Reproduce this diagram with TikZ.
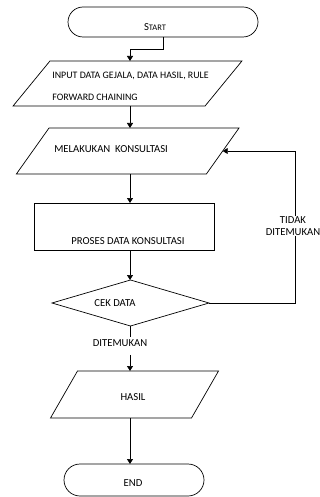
\documentclass[tikz,border=0pt]{standalone}
\usepackage{fontspec}
\setmainfont{Carlito}
\usetikzlibrary{arrows.meta,shapes.geometric}

\tikzset{
  terminal/.style={draw, rectangle, rounded corners=15pt, inner sep=0pt, outer sep=0pt},
  iobox/.style={draw, rectangle, inner sep=0pt, outer sep=0pt, transform shape},
  procbox/.style={draw, rectangle, inner sep=0pt, outer sep=0pt},
  decbox/.style={draw, diamond, inner sep=0pt, outer sep=0pt},
  txt/.style={inner sep=0pt},
  flow/.style={-{Triangle[length=5pt,width=6pt]}}
}

\begin{document}
\begin{tikzpicture}[x=1pt, y=-1pt, line width=0.7pt, font=\fontsize{10.7}{12}\selectfont]
\useasboundingbox (0,0) rectangle (320,497);

%HILFSLINIEN
\coordinate (axis) at (130,0);
\coordinate (loop) at (295,0);

%START
\node[terminal, minimum width=190pt, minimum height=30pt] (start) at (163,22) {};
\node[txt] (starttext) at (155,27) {S{\fontsize{8.5}{10}\selectfont TART}};

%INPUT DATA
\begin{scope}[shift={(127.5,83.5)}, xslant=0.82]
  \node[iobox, minimum width=192pt, minimum height=45pt] (input) at (0,0) {};
\end{scope}
\node[txt, anchor=west, font=\fontsize{9.9}{12}\selectfont] (inputa) at (52,76) {INPUT DATA GEJALA,  DATA HASIL, RULE};
\node[txt, anchor=west, font=\fontsize{9.9}{12}\selectfont] (inputb) at (52,97) {FORWARD CHAINING};

%KONSULTASI
\begin{scope}[shift={(127.7,151)}, xslant=0.71]
  \node[iobox, minimum width=190pt, minimum height=46pt] (konsul) at (0,0) {};
\end{scope}
\node[txt, anchor=west] (konsultext) at (54,149) {MELAKUKAN\ \ KONSULTASI};

%PROSES
\node[procbox, minimum width=180pt, minimum height=47pt] (proses) at (124,226.5) {};
\node[txt] (prosestext) at (128,241) {PROSES DATA KONSULTASI};

%CEK DATA
\node[decbox, minimum width=157pt, minimum height=46pt] (cek) at (130.5,303) {};
\node[txt] (cektext) at (115,303) {CEK DATA};

%HASIL
\begin{scope}[shift={(134.5,394.5)}, xslant=0.574]
  \node[iobox, minimum width=141pt, minimum height=47pt] (hasil) at (0,0) {};
\end{scope}
\node[txt] (hasiltext) at (133,397) {HASIL};

%END
\node[terminal, rounded corners=16pt, minimum width=140pt, minimum height=32pt] (end) at (134,480) {};
\node[txt] (endtext) at (133,483) {END};

%VERBINDUNGEN
\draw[flow] (start.south) -- ++(0,12) -| (input.north -| axis);
\draw[flow] (input.south -| axis) -- (konsul.north -| axis);
\draw[flow] (konsul.south -| axis) -- (proses.north -| axis);
\draw[flow] (proses.south -| axis) -- (cek.north -| axis);
\draw[flow] (cek.east) -- (cek.east -| loop) -- (loop |- konsul.east) -- (konsul.east);
\node[fill=white, inner sep=1pt, align=center, font=\fontsize{10.7}{12}\selectfont] (tidak) at (293,226) {TIDAK\\DITEMUKAN};

\node[inner sep=2pt] (found) at (120,343) {DITEMUKAN};
\draw (cek.south) -- (cek.south |- found.north);
\coordinate (foundbelow) at ([yshift=-6pt]found.south);
\draw[flow] (foundbelow -| axis) -- (hasil.north -| axis);
\draw[flow] (hasil.south -| axis) -- (end.north -| axis);

\end{tikzpicture}
\end{document}
